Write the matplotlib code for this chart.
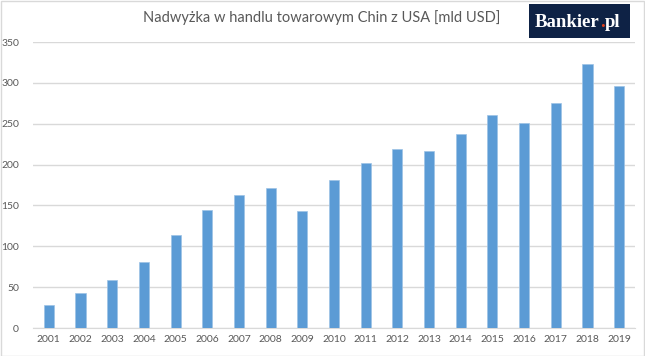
import matplotlib
matplotlib.use("Agg")
import matplotlib.pyplot as plt
from matplotlib.patches import Rectangle

years = ["2001", "2002", "2003", "2004", "2005", "2006", "2007", "2008", "2009", "2010",
         "2011", "2012", "2013", "2014", "2015", "2016", "2017", "2018", "2019"]
surplus = [28.1, 42.7, 58.6, 80.3, 114.2, 144.3, 163.3, 171.0, 143.4, 181.3,
           202.3, 218.9, 216.0, 237.0, 261.0, 251.0, 275.8, 323.3, 295.8]
yticks = [0, 50, 100, 150, 200, 250, 300, 350]
title = "Nadwyżka w handlu towarowym Chin z USA [mld USD]"

W, H = 645, 356
fig = plt.figure(figsize=(W / 100, H / 100), dpi=100)
fig.patch.set_facecolor("white")
# outer border
fig.patches.append(Rectangle((0.5 / W, 0.5 / H), 1 - 1.5 / W, 1 - 1.5 / H, transform=fig.transFigure,
                             fill=False, edgecolor="#D9D9D9", linewidth=1.0))

ax = fig.add_axes([33 / W, 1 - 328 / H, (635 - 33) / W, (328 - 42) / H])
x = list(range(len(years)))
ax.bar(x, surplus, width=0.32, color="#5B9BD5", edgecolor="#9DC3E6", linewidth=0.5, zorder=3)
ax.set_xlim(-0.5, len(years) - 0.5)
ax.set_ylim(0, 350)
ax.set_yticks(yticks)
ax.set_xticks(x)
ax.set_xticklabels(years)
ax.yaxis.grid(True, color="#D9D9D9", linewidth=1.0, zorder=0)
for s in ax.spines.values():
    s.set_visible(False)
ax.spines["bottom"].set_visible(True)
ax.spines["bottom"].set_color("#D9D9D9")
ax.tick_params(axis="both", length=0, labelsize=7.5, labelcolor="#595959")
ax.tick_params(axis="y", pad=10)
ax.tick_params(axis="x", pad=5)
for lab in ax.get_xticklabels() + ax.get_yticklabels():
    lab.set_family("Lato")

fig.text(322 / W, 1 - 18 / H, title, ha="center", va="center", fontsize=10.5,
         color="#595959", family="Lato")

# logo
fig.patches.append(Rectangle((529 / W, 1 - 38 / H), (630 - 529) / W, 34 / H,
                             transform=fig.transFigure, facecolor="#0E2245", edgecolor="none"))
logo_kw = dict(va="baseline", fontsize=13.5, family="Liberation Serif", weight="bold")
t1 = fig.text(535 / W, 1 - 27 / H, "Bankier", ha="left", color="white", **logo_kw)
renderer = fig.canvas.get_renderer()
bb = t1.get_window_extent(renderer=renderer)
t2 = fig.text(bb.x1 / W, 1 - 27 / H, ".", ha="left", color="#E2401C", **logo_kw)
bb2 = t2.get_window_extent(renderer=renderer)
fig.text(bb2.x1 / W, 1 - 27 / H, "pl", ha="left", color="white", **logo_kw)

fig.savefig("out.png", dpi=100)
